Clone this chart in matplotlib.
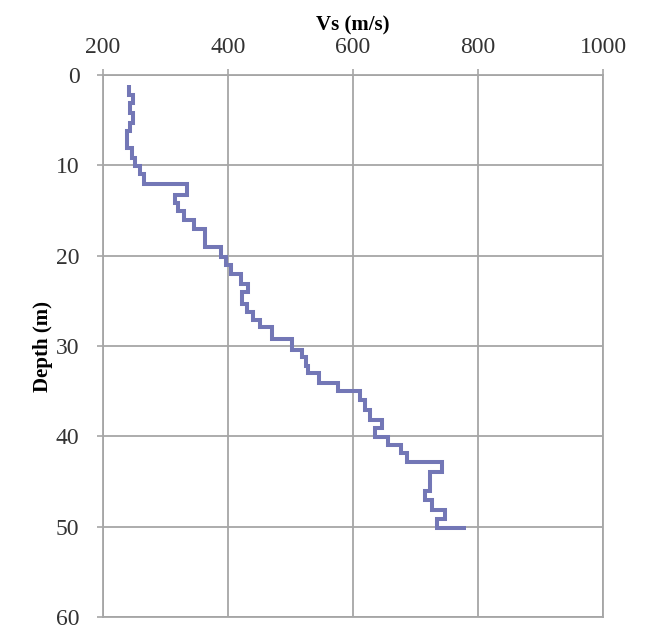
import matplotlib.pyplot as plt
import numpy as np

# layer boundaries (m) and shear wave velocity of each layer (m/s)
depth_edges = [1.1, 2.2, 3.1, 4.2, 5.3, 6.2, 8.1, 9.2, 10.1, 11.0, 12.1,
               13.3, 14.2, 15.1, 16.1, 17.0, 19.0, 20.1, 21.0, 22.0, 23.1,
               24.0, 25.3, 26.2, 27.1, 27.9, 29.2, 30.4, 31.2, 32.2, 33.0,
               34.1, 35.0, 36.0, 37.1, 38.2, 39.1, 40.1, 41.0, 41.9, 42.8,
               43.9, 46.1, 47.1, 48.1, 49.2, 50.2, 50.2]
vs = [242, 248, 243, 248, 243, 239, 246, 251, 259, 265,
      335, 315, 320, 329, 345, 363, 389, 397, 405, 421,
      432, 422, 430, 440, 451, 470, 502, 518, 524, 528,
      545, 576, 611, 619, 627, 646, 635, 656, 677, 686,
      743, 723, 715, 727, 747, 734, 781]

x_ticks = [200, 400, 600, 800, 1000]
y_ticks = [0, 10, 20, 30, 40, 50, 60]

GRID = "#a6a6a6"
LINE = "#7377b6"

plt.rcParams['font.family'] = ['Liberation Serif', 'DejaVu Serif']

fig = plt.figure(figsize=(6.53, 6.31), dpi=100)
ax = fig.add_axes([103/653, 14/631, 500/653, 542/631])

ax.stairs(vs, depth_edges, orientation='horizontal', baseline=None,
          color=LINE, linewidth=2.9, zorder=3)

ax.set_xlim(200, 1000)
ax.set_ylim(60, 0)
ax.set_xticks(x_ticks)
ax.set_yticks(y_ticks)

ax.xaxis.tick_top()
ax.xaxis.set_label_position('top')
ax.set_xlabel("Vs (m/s)", fontsize=15, fontweight='bold', labelpad=5)
ax.set_ylabel("Depth (m)", fontsize=15, fontweight='bold', labelpad=2)

ax.tick_params(axis='both', labelsize=17, colors=GRID, labelcolor='#333333',
               length=4, width=1.2, direction='out')
ax.tick_params(axis='x', pad=8)
ax.tick_params(axis='y', pad=13)

ax.grid(True, color=GRID, linewidth=1.3)
ax.set_axisbelow(True)
for s in ax.spines.values():
    s.set_color(GRID)
    s.set_linewidth(1.3)

plt.savefig("out.png", dpi=100)
